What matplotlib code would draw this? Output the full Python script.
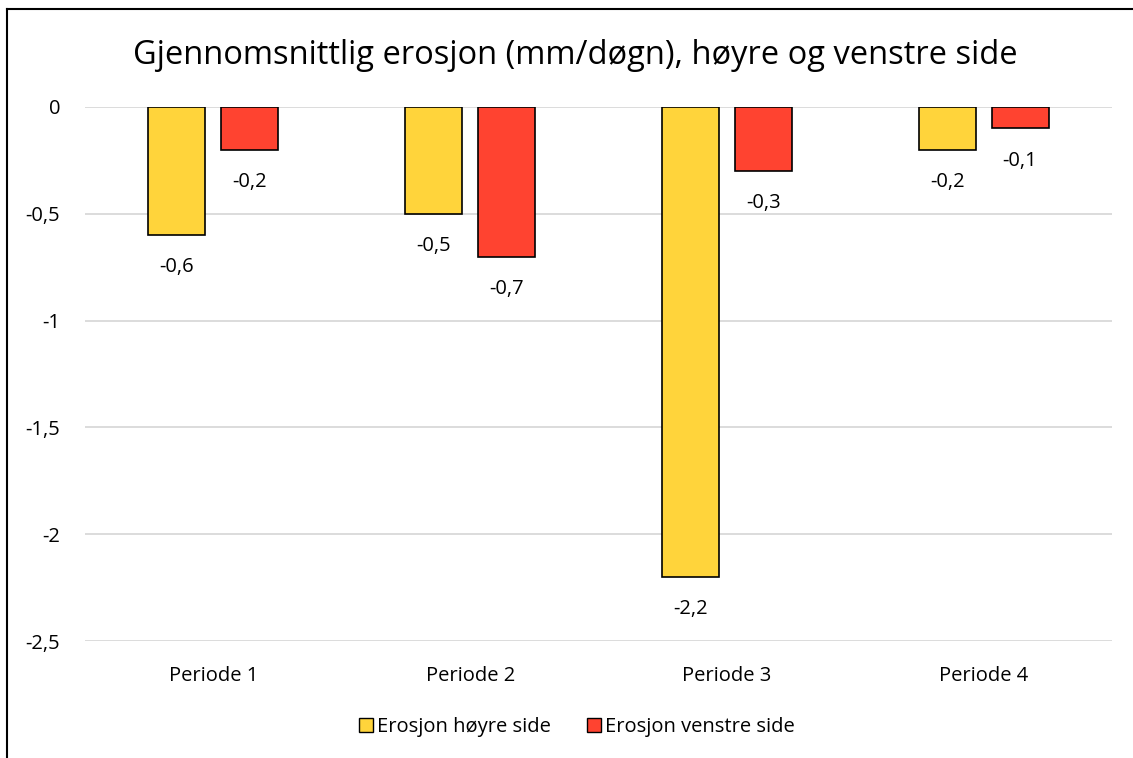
import numpy as np
import matplotlib.pyplot as plt
from matplotlib.lines import Line2D
from matplotlib.patches import Patch

periods = ['Periode 1', 'Periode 2', 'Periode 3', 'Periode 4']
hoyre = [-0.6, -0.5, -2.2, -0.2]
venstre = [-0.2, -0.7, -0.3, -0.1]
yticks = [0, -0.5, -1, -1.5, -2, -2.5]

yellow = '#FFD43B'
red = '#FF4330'

plt.rcParams['font.family'] = ['Open Sans', 'DejaVu Sans']

fig = plt.figure(figsize=(11.33, 7.58), dpi=100)
W, H = 1133, 758
ax = fig.add_axes([85 / W, 1 - 641 / H, (1112 - 85) / W, (641 - 107) / H])

x = np.arange(len(periods))
bw = 0.222
off = 0.142
ax.bar(x - off, hoyre, bw, color=yellow, edgecolor='black', linewidth=1.2, zorder=3)
ax.bar(x + off, venstre, bw, color=red, edgecolor='black', linewidth=1.2, zorder=3)

def fmt(v):
    return ('%g' % v).replace('.', ',')

fs = 14.5
for xi, v in zip(x, hoyre):
    ax.annotate(fmt(v), (xi - off, v), xytext=(0, -16), textcoords='offset points',
                ha='center', va='top', fontsize=fs)
for xi, v in zip(x, venstre):
    ax.annotate(fmt(v), (xi + off, v), xytext=(0, -16), textcoords='offset points',
                ha='center', va='top', fontsize=fs)

ax.set_xlim(-0.5, 3.5)
ax.set_ylim(-2.5, 0)
ax.set_yticks(yticks)
ax.set_yticklabels([fmt(t) for t in yticks], fontsize=fs)
ax.set_xticks(x)
ax.set_xticklabels(periods, fontsize=fs)
ax.tick_params(axis='y', length=0, pad=18)
ax.tick_params(axis='x', length=0, pad=18)
ax.grid(axis='y', color='#D9D9D9', linewidth=1.3, zorder=0)
for s in ax.spines.values():
    s.set_visible(False)

fig.text(575 / W, 1 - 55 / H, 'Gjennomsnittlig erosjon (mm/døgn), høyre og venstre side',
         ha='center', va='center', fontsize=23.5)

handles = [Patch(facecolor=yellow, edgecolor='black', label='Erosjon høyre side'),
           Patch(facecolor=red, edgecolor='black', label='Erosjon venstre side')]
fig.legend(handles=handles, loc='center', bbox_to_anchor=(577 / W, 1 - 727 / H), ncol=2,
           frameon=False, fontsize=fs, handlelength=0.7, handleheight=0.7,
           handletextpad=0.2, columnspacing=1.8)

# outer chart border (cropped on right and bottom)
fig.add_artist(Line2D([7 / W, 7 / W], [0, 1 - 9 / H], color='black', linewidth=1.5))
fig.add_artist(Line2D([7 / W, 1], [1 - 9 / H, 1 - 9 / H], color='black', linewidth=1.5))

fig.savefig('out.png', dpi=100)
